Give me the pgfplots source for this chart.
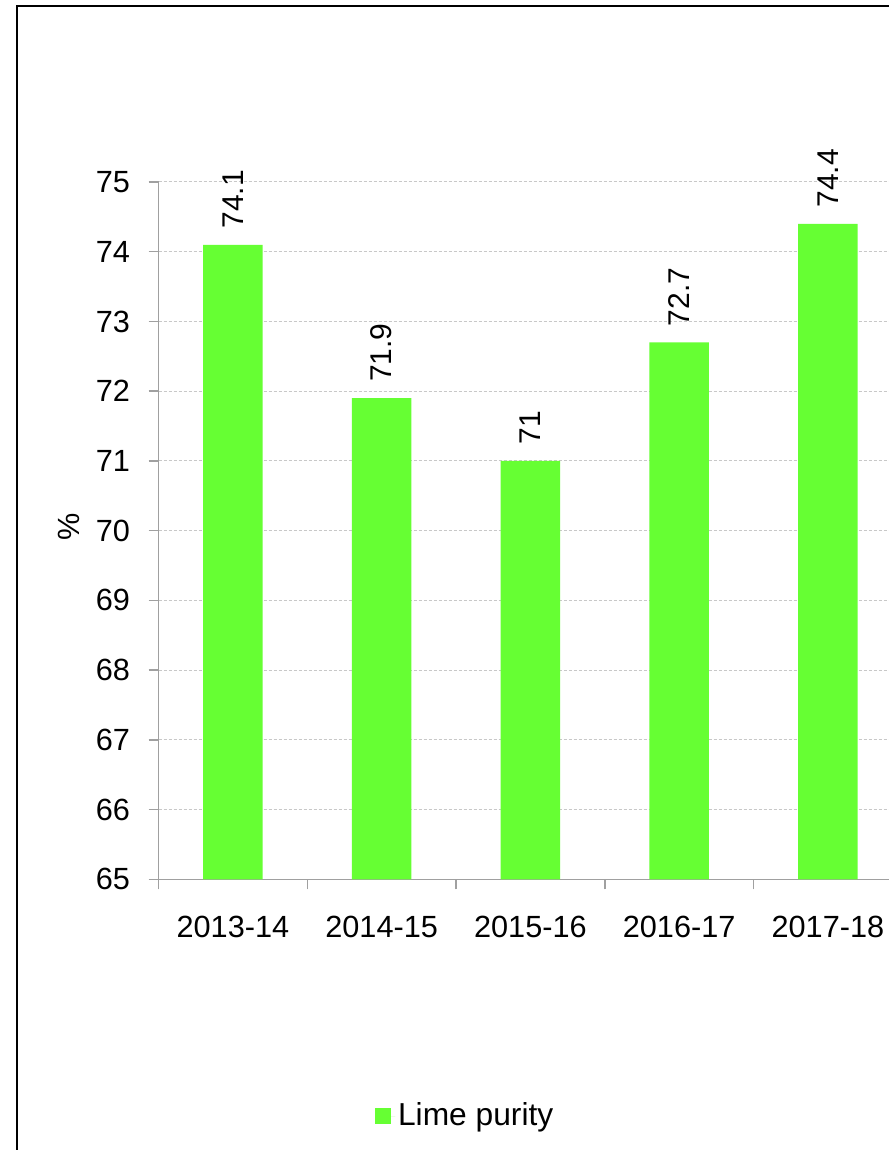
\documentclass[border=0pt]{standalone}
\usepackage{fontspec}
\setmainfont{Liberation Sans}
\usepackage{pgfplots}
\pgfplotsset{compat=1.18}
\definecolor{limegreen}{HTML}{66FF33}
\definecolor{axgray}{HTML}{A0A0A0}
\definecolor{gridgray}{HTML}{C8C8C8}
\begin{document}
\fontsize{23}{27}\selectfont
\begin{tikzpicture}
\useasboundingbox (0pt,0pt) rectangle (666.75pt,862.5pt);
\fill[white] (0pt,0pt) rectangle (666.75pt,862.5pt);
\clip (0pt,0pt) rectangle (666.75pt,862.5pt);
\draw[black, line width=0.9pt] (12.75pt,-100pt) rectangle (800pt,858pt);
\begin{axis}[
  at={(118.9pt,203pt)}, anchor=south west,
  scale only axis,
  width=557.8pt, height=523pt,
  xmin=-0.5, xmax=4.5,
  ymin=65, ymax=75,
  ytick={65,66,...,75},
  xtick={-0.5,0.5,1.5,2.5,3.5,4.5},
  xticklabels={},
  extra x ticks={0,1,2,3,4},
  extra x tick labels={2013-14,2014-15,2015-16,2016-17,2017-18},
  extra x tick style={major tick length=0pt, tick style={draw=none}},
  /pgf/number format/assume math mode=true,
  axis x line*=bottom,
  axis y line*=left,
  axis line style={-, draw=axgray, line width=1.1pt},
  every outer x axis line/.append style={-},
  every outer y axis line/.append style={-},
  tick align=outside,
  major tick length=7.5pt,
  tick style={draw=axgray, line width=1.1pt},
  ymajorgrids,
  grid style={draw=gridgray, dash pattern=on 2.25pt off 1.5pt, line width=0.75pt},
  ylabel={\%},
  ylabel style={at={(axis description cs:-0.121,0.505)}, anchor=center},
  yticklabel style={anchor=east, xshift=-6pt},
  xticklabel style={anchor=north, yshift=-19.5pt},
  clip=false,
  legend style={at={(axis description cs:0.413,-0.3395)}, anchor=center, draw=none, fill=none, font=\fontsize{23.8}{27}\selectfont},
  legend cell align=left,
]
\addplot[ybar, bar width=0.4, fill=limegreen, draw=none,
  nodes near coords,
  every node near coord/.append style={rotate=90, anchor=west, inner xsep=12pt, inner ysep=0pt, font=\fontsize{22.5}{26}\selectfont, black},
  legend image code/.code={\fill[limegreen] (0pt,-6pt) rectangle (12pt,6pt); \path (0pt,0pt) -- (15pt,0pt);}
] coordinates {(0,74.1) (1,71.9) (2,71.0) (3,72.7) (4,74.4)};
\addlegendentry{Lime purity}
\end{axis}
\end{tikzpicture}
\end{document}
